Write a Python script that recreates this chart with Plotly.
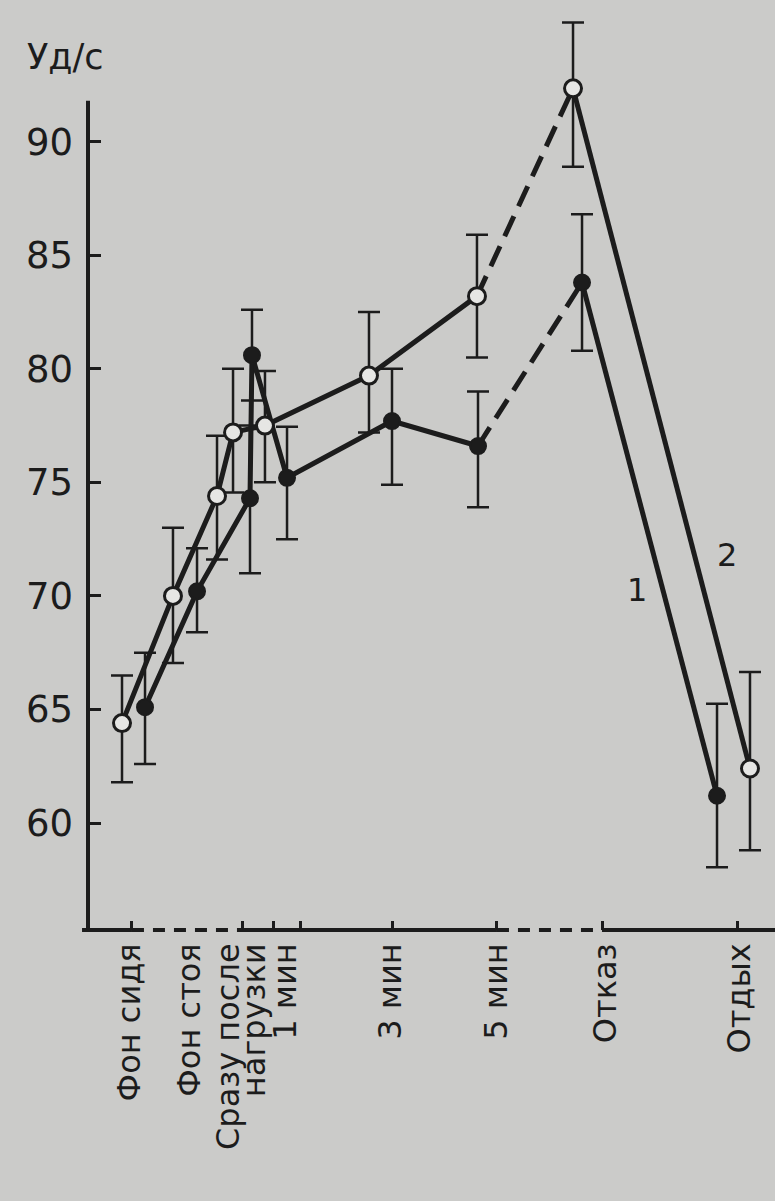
import plotly.graph_objects as go

# Schematic time axis (arbitrary units, 0 = vertical axis, 100 = right edge)
labels = ["Фон сидя", "Фон стоя", "Сразу после", "нагрузки", "1 мин",
          "3 мин", "5 мин", "Отказ", "Отдых"]
label_pos = [6.1, 14.85, 20.4, 24.3, 28.8, 44.0, 59.5, 75.4, 94.8]
tick_pos = [6.4, 22.56, 26.93, 30.86, 44.25, 59.53, 74.96, 94.47]

# Series 1 (filled circles), heart rate, beats/s
x1 = [8.30, 15.87, 23.58, 23.87, 28.97, 44.25, 56.77, 71.91, 91.56]
y1 = [65.1, 70.2, 74.3, 80.6, 75.2, 77.7, 76.6, 83.8, 61.2]
e1_up = [2.4, 1.9, 3.2, 2.0, 2.25, 2.3, 2.4, 3.0, 4.05]
e1_dn = [2.5, 1.8, 3.3, 2.0, 2.7, 2.8, 2.7, 3.0, 3.15]

# Series 2 (open circles)
x2 = [4.95, 12.37, 18.78, 21.11, 25.76, 40.90, 56.62, 70.60, 96.36]
y2 = [64.4, 70.0, 74.4, 77.2, 77.5, 79.7, 83.2, 92.35, 62.4]
e2_up = [2.1, 3.0, 2.65, 2.8, 2.4, 2.8, 2.7, 2.9, 4.25]
e2_dn = [2.6, 2.95, 2.8, 2.65, 2.5, 2.5, 2.7, 3.45, 3.6]

y_ticks = [60, 65, 70, 75, 80, 85, 90]

INK = "#1c1c1c"
BG = "#cbcbc9"
FONT = "DejaVu Sans"
X_RANGE = [-1.165, 100]
Y_RANGE = [55.289, 95.799]
BREAK = 6  # segment from index BREAK to BREAK+1 is drawn dashed

fig = go.Figure()


def add_series(xs, ys, up, dn, marker):
    # solid parts of the curve
    for a, b in ((0, BREAK + 1), (BREAK + 1, len(xs))):
        fig.add_trace(go.Scatter(x=xs[a:b], y=ys[a:b], mode="lines",
                                 line=dict(color=INK, width=5),
                                 hoverinfo="skip", showlegend=False))
    # dashed interval (5 min -> refusal)
    fig.add_trace(go.Scatter(x=xs[BREAK:BREAK + 2], y=ys[BREAK:BREAK + 2],
                             mode="lines",
                             line=dict(color=INK, width=5, dash="22px,11px"),
                             hoverinfo="skip", showlegend=False))
    # points with error bars
    fig.add_trace(go.Scatter(
        x=xs, y=ys, mode="markers", marker=marker, showlegend=False,
        error_y=dict(type="data", symmetric=False, array=up, arrayminus=dn,
                     color=INK, thickness=2.5, width=11)))


add_series(x1, y1, e1_up, e1_dn,
           dict(symbol="circle", size=16, color=INK,
                line=dict(color=INK, width=2)))
add_series(x2, y2, e2_up, e2_dn,
           dict(symbol="circle", size=17, color="#e6e6e4",
                line=dict(color=INK, width=3)))

# vertical axis line
fig.add_shape(type="line", xref="x", yref="y", x0=0, x1=0,
              y0=Y_RANGE[0], y1=91.8, line=dict(color=INK, width=4))

# horizontal axis: solid with dashed breaks
segments = [
    (-0.87, tick_pos[0], "solid"),
    (tick_pos[0], tick_pos[1], "12px,9px"),
    (tick_pos[1], tick_pos[5], "solid"),
    (tick_pos[5], tick_pos[6], "12px,9px"),
    (tick_pos[6], X_RANGE[1], "solid"),
]
for a, b, dash in segments:
    fig.add_shape(type="line", xref="x", yref="paper", x0=a, x1=b,
                  y0=0, y1=0, line=dict(color=INK, width=4, dash=dash))

# unit label above the vertical axis
fig.add_annotation(text="Уд/с", xref="paper", yref="paper", x=-0.021, y=0.949,
                   xanchor="center", yanchor="middle",
                   showarrow=False, font=dict(family=FONT, size=35, color=INK))
# curve numbers
fig.add_annotation(text="1", xref="x", yref="y", x=79.9, y=70.26,
                   showarrow=False, font=dict(family=FONT, size=32, color=INK))
fig.add_annotation(text="2", xref="x", yref="y", x=93.0, y=71.8,
                   showarrow=False, font=dict(family=FONT, size=32, color=INK))

fig.update_layout(
    width=775, height=1201,
    margin=dict(l=80, r=0, t=10, b=271),
    paper_bgcolor=BG, plot_bgcolor=BG,
    font=dict(family=FONT, color=INK),
    xaxis=dict(range=X_RANGE, showgrid=False, zeroline=False, showline=False,
               tickmode="array", tickvals=label_pos, ticktext=labels,
               tickangle=-90, ticks="", ticklabelstandoff=6,
               tickfont=dict(family=FONT, size=32, color=INK),
               minor=dict(tickmode="array", tickvals=tick_pos, ticks="inside",
                          ticklen=9, tickwidth=2.5, tickcolor=INK)),
    yaxis=dict(range=Y_RANGE, anchor="free", position=8 / 695,
               showgrid=False, zeroline=False, showline=False,
               tickmode="array", tickvals=y_ticks,
               ticks="inside", ticklen=12, tickwidth=3, tickcolor=INK,
               ticklabelstandoff=15,
               tickfont=dict(family=FONT, size=37, color=INK)),
)

fig.write_html("out.html")
